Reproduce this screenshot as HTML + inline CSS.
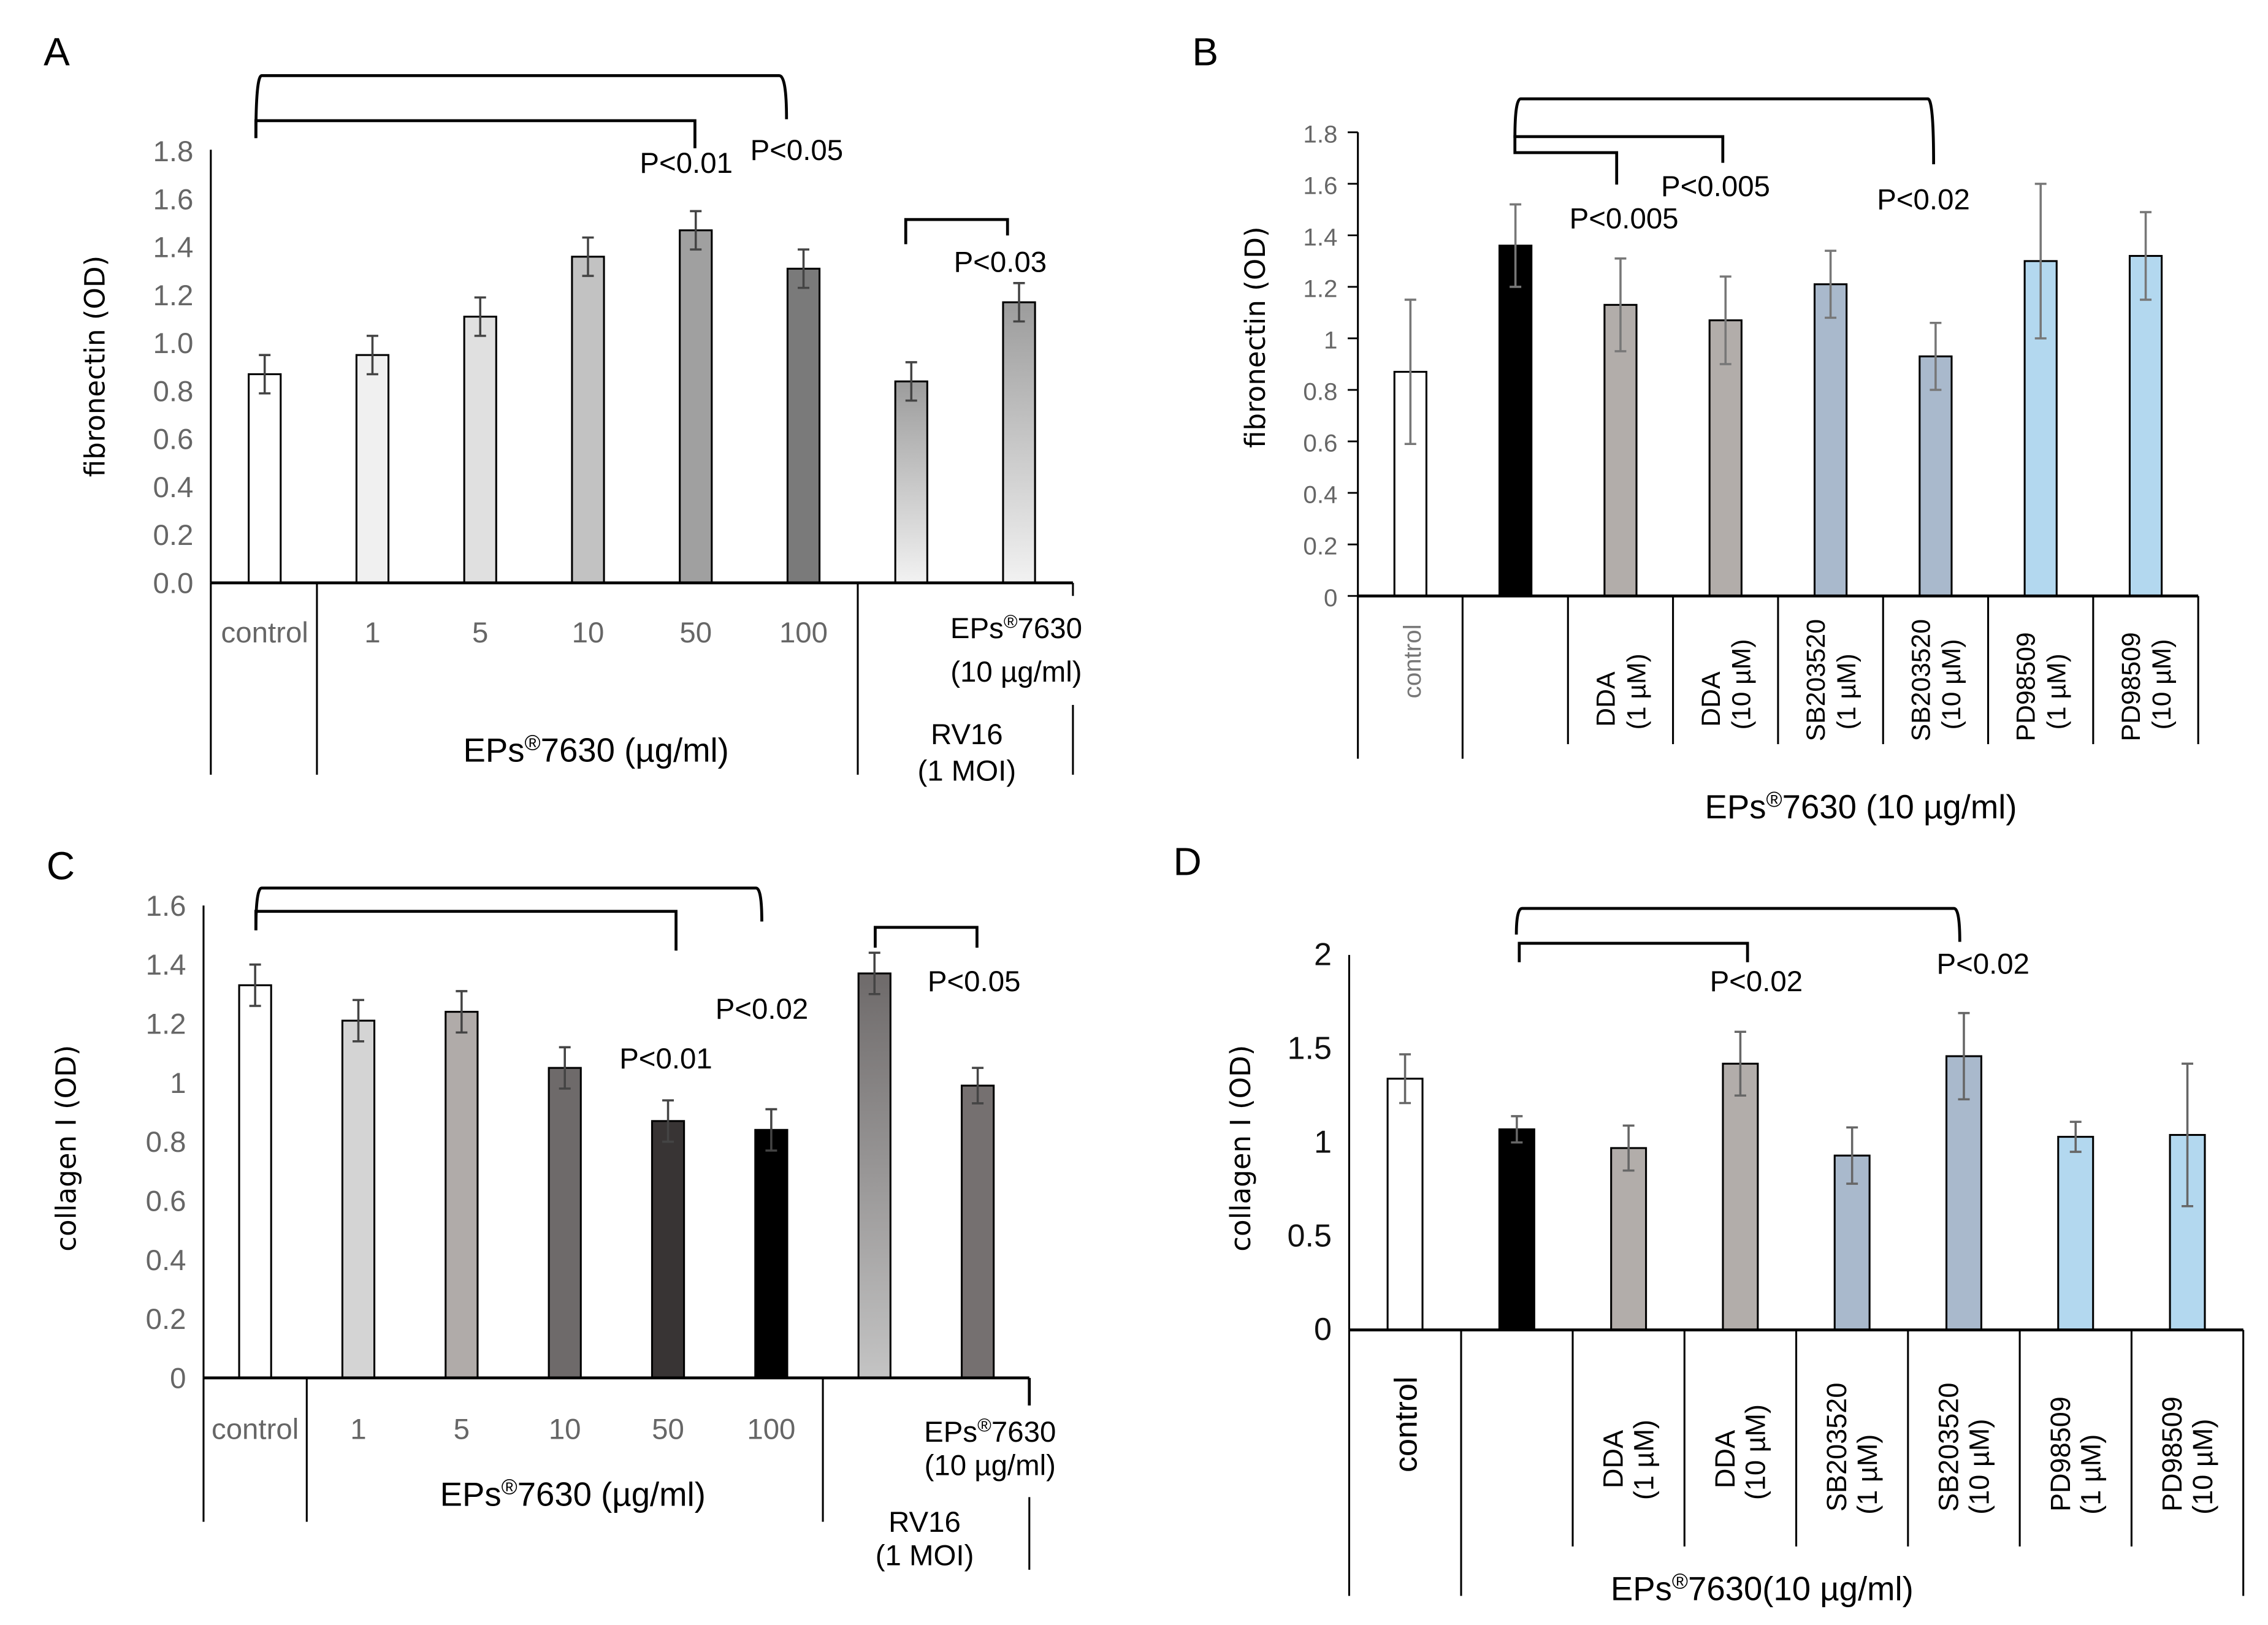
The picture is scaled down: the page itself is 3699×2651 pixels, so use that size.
<!DOCTYPE html>
<html><head><meta charset="utf-8"><style>
html,body{margin:0;padding:0;background:#fff;}
svg{display:block;}
text{font-family:"Liberation Sans",sans-serif;}
</style></head><body>
<svg id="fig" width="3699" height="2651" viewBox="0 0 1560 1118" xmlns="http://www.w3.org/2000/svg">
<defs>
<linearGradient id="gA" x1="0" y1="0" x2="0" y2="1"><stop offset="0" stop-color="#9c9c9c"/><stop offset="1" stop-color="#f2f2f2"/></linearGradient>
<linearGradient id="gC" x1="0" y1="0" x2="0" y2="1"><stop offset="0" stop-color="#6e6a6a"/><stop offset="1" stop-color="#c4c4c4"/></linearGradient>
</defs>
<g id="panels"></g>
</svg>
<script>
// Panel A: fibronectin vs EPs dose
const catsA = ["control","1","5","10","50","100","RV16","EPs 10"];
const valsA = [0.87,0.95,1.11,1.36,1.47,1.31,0.84,1.17];
const errA  = [0.08,0.08,0.08,0.08,0.08,0.08,0.08,0.08];
const ticksA = ["0.0","0.2","0.4","0.6","0.8","1.0","1.2","1.4","1.6","1.8"];
// Panel B: fibronectin vs inhibitors
const catsB = ["control","EPs","DDA 1","DDA 10","SB 1","SB 10","PD 1","PD 10"];
const valsB = [0.87,1.36,1.13,1.07,1.21,0.93,1.30,1.32];
const errB  = [0.28,0.16,0.18,0.17,0.13,0.13,0.30,0.17];
const ticksB = ["0","0.2","0.4","0.6","0.8","1","1.2","1.4","1.6","1.8"];
// Panel C: collagen I vs EPs dose
const catsC = ["control","1","5","10","50","100","RV16","EPs 10"];
const valsC = [1.33,1.21,1.24,1.05,0.87,0.84,1.37,0.99];
const errC  = [0.07,0.07,0.07,0.07,0.07,0.07,0.07,0.06];
const ticksC = ["0","0.2","0.4","0.6","0.8","1","1.2","1.4","1.6"];
// Panel D: collagen I vs inhibitors
const catsD = ["control","EPs","DDA 1","DDA 10","SB 1","SB 10","PD 1","PD 10"];
const valsD = [1.34,1.07,0.97,1.42,0.93,1.46,1.03,1.04];
const errD  = [0.13,0.07,0.12,0.17,0.15,0.23,0.08,0.38];
const ticksD = ["0","0.5","1","1.5","2"];

const NS="http://www.w3.org/2000/svg";
const root=document.getElementById('panels');
function mk(tag,attrs,parent,txt){const e=document.createElementNS(NS,tag);for(const k in attrs)e.setAttribute(k,attrs[k]);if(txt!==undefined)e.textContent=txt;(parent||root).appendChild(e);return e;}

function panel(o){
  const g=mk('g',{});
  
  
  const n=o.vals.length, slot=(o.x1-o.x0)/n;
  const ymax=parseFloat(o.ticks[o.ticks.length-1]);
  const ys=v=>o.y0-(v/ymax)*(o.y0-o.yTop);
  const xs=i=>o.x0+slot*(i+0.5);
  // ticks
  o.ticks.forEach(t=>{
    const y=ys(parseFloat(t));
    const tl=mk('text',{x:o.x0-(o.tickMark?14:12),y:y+7,'text-anchor':'end','font-size':o.tfs,fill:o.tcol},g,t);
    
    
    if(o.tickMark){const tm=mk('line',{x1:o.x0-7,x2:o.x0,y1:y,y2:y,stroke:'#000','stroke-width':1.2},g);
      
      }
  });
  // bars
  o.vals.forEach((v,i)=>{
    const x=xs(i), y=ys(v);
    const r=mk('rect',{x:x-o.bw/2,y:y,width:o.bw,height:o.y0-y,fill:o.fills[i],stroke:'#000','stroke-width':1.3},g);
    
    
    const e=o.errs[i], yt=ys(v+e), yb=ys(v-e);
    const eb=mk('path',{d:`M${x},${yt}V${yb}M${x-4},${yt}H${x+4}M${x-4},${yb}H${x+4}`,stroke:o.ecol,'stroke-width':1.5,fill:'none'},g);
    
    
  });
  // axes
  const ya=mk('line',{x1:o.x0,x2:o.x0,y1:o.yAxisTop,y2:o.y0,stroke:'#000','stroke-width':1.3},g);
  
  
  const xa=mk('line',{x1:o.x0,x2:o.x1,y1:o.y0,y2:o.y0,stroke:'#000','stroke-width':2},g);
  
  
  const yt=mk('text',{transform:`translate(${o.ytx},${o.yty}) rotate(-90)`,'text-anchor':'middle','font-size':19,fill:'#000',style:'font-family:"DejaVu Sans",sans-serif'},g,o.ytitle);
  
  
  return {g,xs,ys,slot};
}
function line(d,g,name,w){const p=mk('path',{d:d,stroke:'#000','stroke-width':w||1.3,fill:'none'},g);return p;}
function txt(x,y,s,fs,g,name,extra){const a=Object.assign({x:x,y:y,'font-size':fs,'text-anchor':'middle',fill:'#000'},extra||{});const t=mk('text',a,g,s);return t;}
function eps(x,y,fs,g,name,rest){const t=txt(x,y,'',fs,g,name);const a=mk('tspan',{},t,'EPs');const b=mk('tspan',{'font-size':fs*0.65,dy:-fs*0.35},t,'®');const c=mk('tspan',{dy:fs*0.35},t,'7630'+rest);return t;}

// ---------- A ----------
(function(){
 const fills=['#ffffff','#f0f0f0','#e0e0e0','#c2c2c2','#a0a0a0','#7a7a7a','url(#gA)','url(#gA)'];
 const P=panel({name:'panel-a',cats:catsA,vals:valsA,errs:errA,ticks:ticksA,x0:145,x1:738,y0:401,yTop:104,yAxisTop:103,bw:22,fills,tfs:20,tcol:'#666',ecol:'#444',tickMark:false,ytx:72,yty:252,ytitle:'fibronectin (OD)'});
 const g=P.g;
 txt(30,45,'A',27,g,'panel-label-a',{'text-anchor':'start'});
 line('M738,401V410',g,'x-axis-end');
 line('M145,401V533M218,401V533M590,401V533M738,485V533',g,'category-dividers');
 ['control','1','5','10','50','100'].forEach((c,i)=>txt(P.xs(i),442,c,20,g,'x-tick-label',{fill:'#666'}));
 eps(699,439,20,g,'eps-label','');
 txt(699,469,'(10 µg/ml)',20,g,'eps-dose-label');
 eps(410,524,23,g,'x-group-title',' (µg/ml)');
 txt(665,512,'RV16',20,g,'rv16-label');
 txt(665,537,'(1 MOI)',20,g,'rv16-moi-label');
 line('M176,95Q176,52 180,52H536Q541,52 541,82',g,'bracket-control-100',2);
 line('M176,95V83H478V102',g,'bracket-control-50',2);
 line('M623,168V151H693V162',g,'bracket-rv16-eps',2);
 txt(472,119,'P<0.01',20,g,'p-value');
 txt(548,110,'P<0.05',20,g,'p-value');
 txt(688,187,'P<0.03',20,g,'p-value');
})();
// ---------- B ----------
(function(){
 const fills=['#ffffff','#000000','#b2adaa','#b2adaa','#a9b9cc','#a9b9cc','#b3d8ef','#b3d8ef'];
 const P=panel({name:'panel-b',cats:catsB,vals:valsB,errs:errB,ticks:ticksB,x0:934,x1:1512,y0:410,yTop:91,yAxisTop:91,bw:22,fills,tfs:17,tcol:'#666',ecol:'#777',tickMark:true,ytx:870,yty:232,ytitle:'fibronectin (OD)'});
 const g=P.g;
 txt(820,45,'B',27,g,'panel-label-b',{'text-anchor':'start'});
 let d='M934,410V522M1006,410V522';
 for(let i=2;i<=8;i++){d+=`M${934+P.slot*i},410V512`;}
 line(d,g,'category-dividers');
 txt(0,0,'control',17,g,'x-tick-label',{transform:`translate(${P.xs(0)+7},455) rotate(-90)`,fill:'#777'});
 const l1=['DDA','DDA','SB203520','SB203520','PD98509','PD98509'];
 const l2=['(1 µM)','(10 µM)','(1 µM)','(10 µM)','(1 µM)','(10 µM)'];
 l1.forEach((s,k)=>{const x=P.xs(k+2);
   txt(0,0,s,18,g,'x-tick-label',{transform:`translate(${x-4},${s.length>3?510:500}) rotate(-90)`,'text-anchor':'start'});
   txt(0,0,l2[k],18,g,'x-tick-label',{transform:`translate(${x+17},502) rotate(-90)`,'text-anchor':'start'});});
 eps(1280,563,23,g,'x-group-title',' (10 µg/ml)');
 line('M1042,95Q1042,68 1046,68H1326Q1330,68 1330,113',g,'bracket-eps-sb10',2);
 line('M1042,95V94H1185V112',g,'bracket-eps-dda10',2);
 line('M1042,95V105H1112V127',g,'bracket-eps-dda1',2);
 txt(1117,157,'P<0.005',20,g,'p-value');
 txt(1180,135,'P<0.005',20,g,'p-value');
 txt(1323,144,'P<0.02',20,g,'p-value');
})();
// ---------- C ----------
(function(){
 const fills=['#ffffff','#d4d4d4','#b0aba9','#6e6a6a','#383434','#000000','url(#gC)','#757070'];
 const P=panel({name:'panel-c',cats:catsC,vals:valsC,errs:errC,ticks:ticksC,x0:140,x1:708,y0:948,yTop:623,yAxisTop:623,bw:22,fills,tfs:20,tcol:'#666',ecol:'#444',tickMark:false,ytx:52,yty:790,ytitle:'collagen I (OD)'});
 const g=P.g;
 txt(32,605,'C',27,g,'panel-label-c',{'text-anchor':'start'});
 line('M708,948V967',g,'x-axis-end',2);
 line('M140,948V1047M211,948V1047M566,948V1047M708,1030V1080',g,'category-dividers');
 ['control','1','5','10','50','100'].forEach((c,i)=>txt(P.xs(i),990,c,20,g,'x-tick-label',{fill:'#666'}));
 eps(681,992,20,g,'eps-label','');
 txt(681,1015,'(10 µg/ml)',20,g,'eps-dose-label');
 eps(394,1036,23,g,'x-group-title',' (µg/ml)');
 txt(636,1054,'RV16',20,g,'rv16-label');
 txt(636,1077,'(1 MOI)',20,g,'rv16-moi-label');
 line('M176,640Q176,611 180,611H520Q524,611 524,634',g,'bracket-control-100',2);
 line('M176,640V627H465V654',g,'bracket-control-50',2);
 line('M602,652V638H672V652',g,'bracket-rv16-eps',2);
 txt(458,735,'P<0.01',20,g,'p-value');
 txt(524,701,'P<0.02',20,g,'p-value');
 txt(670,682,'P<0.05',20,g,'p-value');
})();
// ---------- D ----------
(function(){
 const fills=['#ffffff','#000000','#b2adaa','#b2adaa','#a9b9cc','#a9b9cc','#b3d8ef','#b3d8ef'];
 const P=panel({name:'panel-d',cats:catsD,vals:valsD,errs:errD,ticks:ticksD,x0:928,x1:1543,y0:915,yTop:657,yAxisTop:657,bw:24,fills,tfs:22,tcol:'#111',ecol:'#666',tickMark:false,ytx:860,yty:790,ytitle:'collagen I (OD)'});
 const g=P.g;
 txt(807,602,'D',27,g,'panel-label-d',{'text-anchor':'start'});
 let d='M928,915V1098M1005,915V1098';
 for(let i=2;i<8;i++){d+=`M${928+P.slot*i},915V1064`;}
 d+='M1543,915V1098';
 line(d,g,'category-dividers');
 txt(0,0,'control',22,g,'x-tick-label',{transform:`translate(${P.xs(0)+8},980) rotate(-90)`});
 const l1=['DDA','DDA','SB203520','SB203520','PD98509','PD98509'];
 const l2=['(1 µM)','(10 µM)','(1 µM)','(10 µM)','(1 µM)','(10 µM)'];
 l1.forEach((s,k)=>{const x=P.xs(k+2);
   txt(0,0,s,19,g,'x-tick-label',{transform:`translate(${x-4},${s.length>3?1040:1024}) rotate(-90)`,'text-anchor':'start'});
   txt(0,0,l2[k],19,g,'x-tick-label',{transform:`translate(${x+17},${s.length>3?1042:1032}) rotate(-90)`,'text-anchor':'start'});});
 eps(1212,1101,23,g,'x-group-title','(10 µg/ml)');
 line('M1043,643Q1043,625 1047,625H1344Q1348,625 1348,648',g,'bracket-eps-sb10',2);
 line('M1045,662V649H1202V662',g,'bracket-eps-dda10',2);
 txt(1208,682,'P<0.02',20,g,'p-value');
 txt(1364,670,'P<0.02',20,g,'p-value');
})();
</script>
</body></html>
